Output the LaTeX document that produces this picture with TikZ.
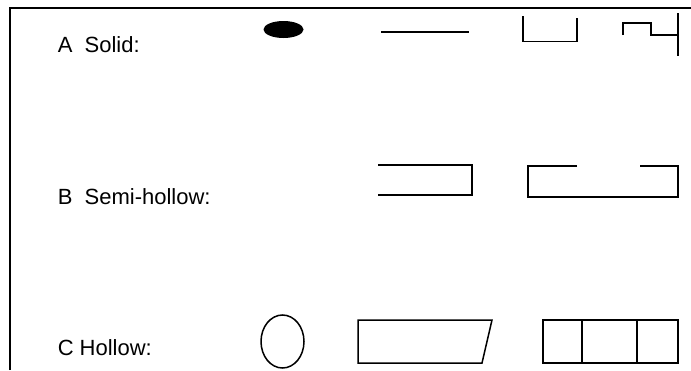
\documentclass[tikz,border=0pt]{standalone}
\usepackage{fontspec}
\setmainfont{Liberation Sans}
\usetikzlibrary{positioning}

\begin{document}
\begin{tikzpicture}[x=1pt, y=-1pt, line width=1.5pt,
    rowlabel/.style={anchor=base west, inner sep=0pt, font=\fontsize{22}{26}\selectfont}]
    \useasboundingbox (0,0) rectangle (691,370);
    \fill[white] (0,0) rectangle (691,370);
    % frame
    \draw[line width=2pt] (10,370) -- (10,8) -- (691,8);
    % row labels
    \node[rowlabel] (solid) at (57,52) {A\ \ Solid:};
    \node[rowlabel] (semihollow) at (57,204) {B\ \ Semi-hollow:};
    \node[rowlabel] (hollow) at (57,355) {C Hollow:};
    % A solid
    \fill (283.5,29.5) ellipse (20pt and 8.5pt);
    \draw (381,32) -- (469,32);
    \draw (523,16) -- (523,41.5) -- (577,41.5) -- (577,18);
    \draw (623,35) -- (623,23) -- (651,23) -- (651,35) -- (678,35);
    \draw (678,13) -- (678,56);
    % B semi-hollow
    \draw (378,165) -- (472,165) -- (472,195) -- (378,195);
    \draw (577,166) -- (528,166) -- (528,197) -- (678,197) -- (678,166) -- (640,166);
    % C hollow
    \draw (282.5,341.5) ellipse (21.5pt and 26.5pt);
    \draw (358,320) -- (492,320) -- (482,363) -- (358,363) -- cycle;
    \draw (543,320) rectangle (678,363);
    \draw (582,320) -- (582,364) (637,320) -- (637,364);
\end{tikzpicture}
\end{document}
